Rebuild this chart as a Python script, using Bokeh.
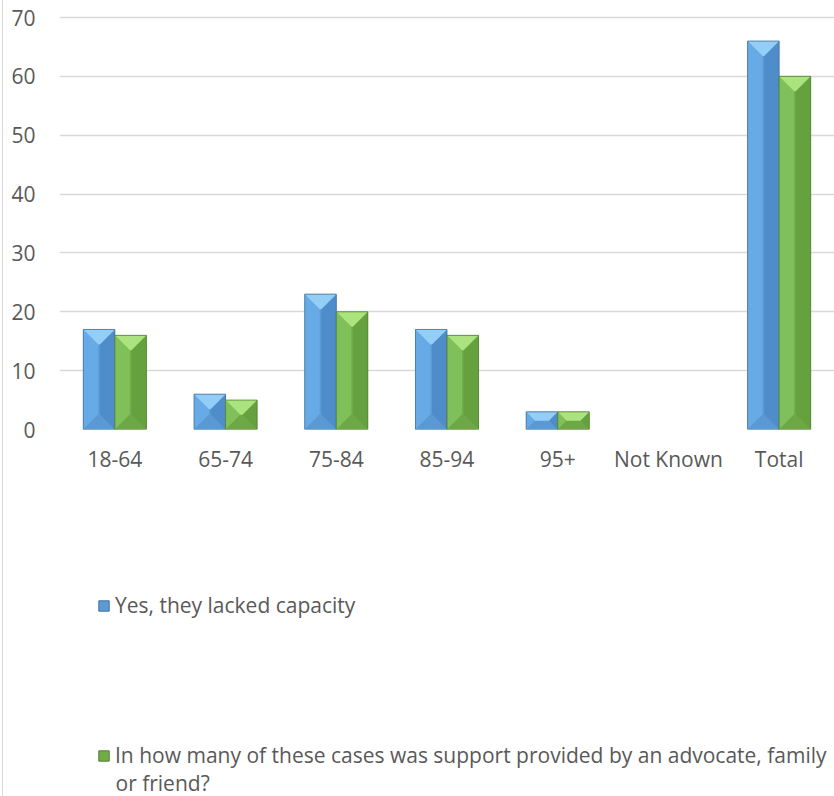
import numpy as np
from bokeh.plotting import figure
from bokeh.models import Range1d, FixedTicker, Legend, LegendItem, ColumnDataSource, Div, Label
from bokeh.layouts import row, column
from bokeh.embed import file_html
from bokeh.resources import INLINE

# ---- data ----
categories = ["18-64", "65-74", "75-84", "85-94", "95+", "Not Known", "Total"]
lacked_capacity = [17, 6, 23, 17, 3, 0, 66]
supported = [16, 5, 20, 16, 3, 0, 60]
y_ticks = [0, 10, 20, 30, 40, 50, 60, 70]
series_names = [
    "Yes, they lacked capacity",
    "In how many of these cases was support provided by an advocate, family\nor friend?",
]

# ---- layout constants ----
TOTAL_H = 796
W = 831
CH = 500                      # chart figure height
LH = TOTAL_H - CH             # legend figure height
B_LEFT, B_TOP = 56, 15
ZERO_Y = 429                  # pixel row of the zero line
B_BOTTOM = CH - ZERO_Y
frame_w = W - B_LEFT
frame_h = ZERO_Y - B_TOP
Y_TOP = y_ticks[-1]
ppy = (ZERO_Y - 17) / Y_TOP   # top tick sits at pixel row 17
y_end = frame_h / ppy
ppx = frame_w / len(categories)
BAR_W = 0.285
OFFSET = 0.1425
BEVEL_PX = 15
FONT = "Open Sans"
FSIZE = "21px"
TXT = "#595959"

styles = [
    dict(top="#93cef6", left="#66aae6", right="#4f8dca", bottom="#5a99d3",
         front="#5b9bd5", line="#41719c"),
    dict(top="#abe37e", left="#80c05a", right="#66a140", bottom="#6ea846",
         front="#70ad47", line="#507e32"),
]

p = figure(width=W, height=CH, x_range=Range1d(0, len(categories)),
           y_range=Range1d(0, y_end), output_backend="svg",
           toolbar_location=None, min_border_left=B_LEFT, min_border_right=0,
           min_border_top=B_TOP, min_border_bottom=B_BOTTOM)
p.outline_line_color = None
p.background_fill_color = "white"
p.border_fill_color = "white"

p.xgrid.grid_line_color = None
p.ygrid.grid_line_color = "#d9d9d9"
p.ygrid.grid_line_width = 1.3

p.yaxis.ticker = FixedTicker(ticks=y_ticks)
p.yaxis.axis_line_color = None
p.yaxis.major_tick_line_color = None
p.yaxis.minor_tick_line_color = None
p.yaxis.major_tick_out = 0
p.yaxis.major_tick_in = 0
p.yaxis.major_label_standoff = 24
p.yaxis.major_label_text_font = FONT
p.yaxis.major_label_text_font_size = FSIZE
p.yaxis.major_label_text_color = TXT

xt = [i + 0.5 for i in range(len(categories))]
p.xaxis.ticker = FixedTicker(ticks=xt)
p.xaxis.major_label_overrides = {x: c for x, c in zip(xt, categories)}
p.xaxis.axis_line_color = None
p.xaxis.major_tick_line_color = None
p.xaxis.minor_tick_line_color = None
p.xaxis.major_tick_out = 0
p.xaxis.major_tick_in = 0
p.xaxis.major_label_standoff = 15
p.xaxis.major_label_text_font = FONT
p.xaxis.major_label_text_font_size = FSIZE
p.xaxis.major_label_text_color = TXT

series_vals = [lacked_capacity, supported]
for si, (vals, st) in enumerate(zip(series_vals, styles)):
    sign = -1 if si == 0 else 1
    xs, tops = [], []
    for i, v in enumerate(vals):
        if v > 0:
            xs.append(i + 0.5 + sign * OFFSET)
            tops.append(v)
    src = ColumnDataSource(dict(x=xs, top=tops))
    p.vbar(x="x", top="top", bottom=0, width=BAR_W, source=src,
           fill_color=st["front"], line_color=None)
    faces = {"top": ([], []), "bottom": ([], []), "left": ([], []), "right": ([], [])}
    for xc, v in zip(xs, tops):
        L, R = xc - BAR_W / 2, xc + BAR_W / 2
        hpx = min(BEVEL_PX, v * ppy / 2, (BAR_W / 2) * ppx)
        hx, hy = hpx / ppx, hpx / ppy
        faces["top"][0].append([L, R, R - hx, L + hx]); faces["top"][1].append([v, v, v - hy, v - hy])
        faces["bottom"][0].append([L, R, R - hx, L + hx]); faces["bottom"][1].append([0, 0, hy, hy])
        faces["left"][0].append([L, L, L + hx, L + hx]); faces["left"][1].append([0, v, v - hy, hy])
        faces["right"][0].append([R, R, R - hx, R - hx]); faces["right"][1].append([0, v, v - hy, hy])
    for name in ["left", "right", "bottom", "top"]:
        fx, fy = faces[name]
        p.patches(xs=fx, ys=fy, fill_color=st[name], line_color=None)
    p.vbar(x="x", top="top", bottom=0, width=BAR_W, source=src,
           fill_color=None, line_color=st["line"], line_width=1, line_alpha=0.8)

# ---- legend panel (separate figure below the chart; its frame aligns with the chart's) ----
lp = figure(width=W, height=LH, x_range=Range1d(-20, -10), y_range=Range1d(0, 1),
            output_backend="svg", toolbar_location=None,
            min_border_left=B_LEFT, min_border_right=0, min_border_top=0, min_border_bottom=0)
lp.outline_line_color = None
lp.axis.visible = False
lp.grid.visible = False
lp.background_fill_color = "white"
lp.border_fill_color = "white"

LEG_X = 38
legend_y = [177, 27]
for si, (vals, st, label, ly) in enumerate(zip(series_vals, styles, series_names, legend_y)):
    lines = label.split("\n")
    # same series drawn into the legend panel (outside its visible x range) to supply the key glyph
    r = lp.vbar(x=xt, top=vals, width=BAR_W, fill_color=st["front"], line_color=st["line"])
    lg = Legend(items=[LegendItem(label=lines[0], renderers=[r])],
                location=(LEG_X, ly), orientation="vertical")
    lg.background_fill_alpha = 0
    lg.border_line_color = None
    lg.padding = 0
    lg.margin = 0
    lg.glyph_width = 13
    lg.glyph_height = 13
    lg.label_standoff = 5
    lg.label_text_font = FONT
    lg.label_text_font_size = FSIZE
    lg.label_text_color = TXT
    lp.add_layout(lg)
    # wrapped continuation lines, aligned with the label text
    for k, extra in enumerate(lines[1:], start=1):
        lp.add_layout(Label(x=LEG_X + 13 + 5, y=ly + 14 - 27 * k, x_units="screen", y_units="screen",
                            text=extra, text_font=FONT, text_font_size=FSIZE,
                            text_color=TXT, text_baseline="middle", text_align="left"))

gap = Div(width=2, height=TOTAL_H, margin=0)
edge = Div(width=1, height=TOTAL_H, margin=0, styles={"background-color": "#d9d9d9"})
layout = row(gap, edge, column(p, lp, spacing=0), spacing=0)

open("out.html", "w").write(file_html(layout, INLINE))
